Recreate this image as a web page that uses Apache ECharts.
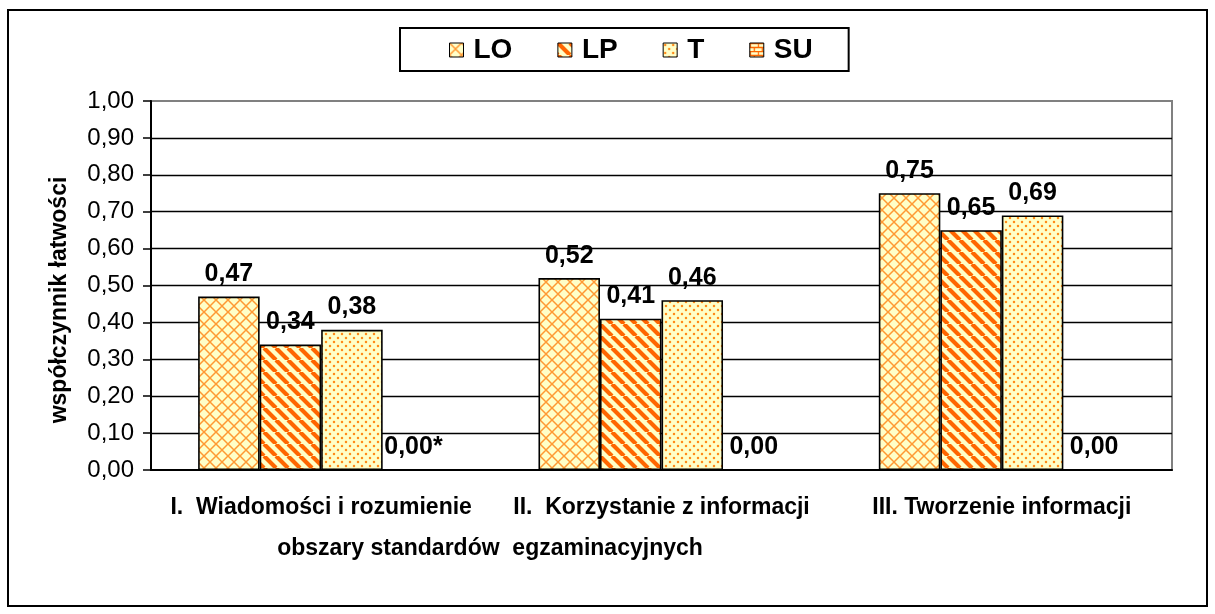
<!DOCTYPE html>
<html>
<head>
<meta charset="utf-8">
<script src="https://cdn.jsdelivr.net/npm/echarts@6/dist/echarts.min.js"></script>
<style>
  html, body { margin: 0; padding: 0; background: #fff; }
  #chart { width: 1215px; height: 614px; }
</style>
</head>
<body>
<div id="chart"></div>
<script>
// dane z wykresu
var categories = ['I.  Wiadomości i rozumienie', 'II.  Korzystanie z informacji', 'III. Tworzenie informacji'];
var seriesNames = ['LO', 'LP', 'T', 'SU'];
var valuesLO = [0.47, 0.52, 0.75];
var valuesLP = [0.34, 0.41, 0.65];
var valuesT = [0.38, 0.46, 0.69];
var valuesSU = [0, 0, 0];
var labelsSU = ['0,00*', '0,00', '0,00'];

var FONT = "'Liberation Sans', Arial, sans-serif";
var bg = '#FFFFC8';

function tile(size, draw) {
    var c = document.createElement('canvas');
    c.width = size; c.height = size;
    var ctx = c.getContext('2d');
    ctx.fillStyle = bg;
    ctx.fillRect(0, 0, size, size);
    draw(ctx, size);
    return { image: c, repeat: 'repeat' };
}

// kratka
var patLO = tile(12, function (ctx, s) {
    ctx.strokeStyle = '#FF9933';
    ctx.lineWidth = 1.5;
    ctx.beginPath();
    ctx.moveTo(0, 0); ctx.lineTo(s, s);
    ctx.moveTo(s, 0); ctx.lineTo(0, s);
    ctx.stroke();
});
// paski ukośne
var patLP = tile(12, function (ctx, s) {
    ctx.strokeStyle = '#FF6600';
    ctx.lineWidth = 4.2;
    ctx.beginPath();
    for (var k = -1; k <= 1; k++) {
        ctx.moveTo(k * s, 0); ctx.lineTo(k * s + s, s);
    }
    ctx.stroke();
});
// kropki
var patT = tile(8, function (ctx, s) {
    ctx.fillStyle = '#FF8C1A';
    ctx.beginPath();
    ctx.arc(2, 2, 1.25, 0, Math.PI * 2);
    ctx.arc(6, 6, 1.25, 0, Math.PI * 2);
    ctx.fill();
});
// cegiełki
var patSU = tile(8, function (ctx, s) {
    ctx.strokeStyle = '#FF6600';
    ctx.lineWidth = 1.3;
    ctx.beginPath();
    ctx.moveTo(0, 0.5); ctx.lineTo(s, 0.5);
    ctx.moveTo(0, 4.5); ctx.lineTo(s, 4.5);
    ctx.moveTo(0.5, 0); ctx.lineTo(0.5, 4.5);
    ctx.moveTo(4.5, 4.5); ctx.lineTo(4.5, s);
    ctx.stroke();
});

function fmt(v) { return v.toFixed(2).replace('.', ','); }

function barSeries(name, data, pattern, labels) {
    return {
        name: name,
        type: 'bar',
        data: data,
        barGap: 0,
        barCategoryGap: '27.7%',
        itemStyle: { color: pattern, borderColor: '#000', borderWidth: 1.6 },
        label: {
            show: true,
            position: 'top',
            distance: 10,
            color: '#000',
            fontFamily: FONT,
            fontSize: 25,
            fontWeight: 'bold',
            formatter: function (p) { return labels ? labels[p.dataIndex] : fmt(p.value); }
        }
    };
}

var chart = echarts.init(document.getElementById('chart'));
var option = {
    animation: false,
    backgroundColor: '#fff',
    textStyle: { fontFamily: FONT },
    grid: {
        left: 151, right: 43, top: 101, bottom: 144,
        show: true, borderColor: '#808080', borderWidth: 2, backgroundColor: 'transparent'
    },
    legend: {
        data: seriesNames,
        left: 400, top: 28,
        padding: [8, 36, 7, 49],
        itemGap: 45,
        itemWidth: 14, itemHeight: 14,
        icon: 'rect',
        borderColor: '#000', borderWidth: 2,
        itemStyle: { borderColor: '#000', borderWidth: 1 },
        textStyle: { fontFamily: FONT, fontSize: 28, fontWeight: 'bold', color: '#000', padding: [0, 0, 0, 5] }
    },
    xAxis: {
        type: 'category',
        data: categories,
        axisLine: { lineStyle: { color: '#000', width: 2 } },
        axisTick: { length: 6, lineStyle: { color: '#000', width: 1.5 } },
        axisLabel: { interval: 0, fontFamily: FONT, fontSize: 23, fontWeight: 'bold', color: '#000', margin: 26 }
    },
    yAxis: {
        type: 'value',
        min: 0, max: 1, interval: 0.1,
        axisLine: { show: true, lineStyle: { color: '#000', width: 2 } },
        axisTick: { show: true, length: 8, lineStyle: { color: '#000', width: 1.5 } },
        axisLabel: { fontFamily: FONT, fontSize: 24, color: '#000', margin: 17, formatter: fmt },
        splitLine: { show: true, showMinLine: false, showMaxLine: false, lineStyle: { color: '#000', width: 1.3 } }
    },
    graphic: [
        {
            type: 'rect', silent: true,
            shape: { x: 8, y: 10, width: 1199, height: 596 },
            style: { fill: 'none', stroke: '#000', lineWidth: 2 }
        },
        {
            type: 'text', silent: true,
            x: 60, y: 300, rotation: Math.PI / 2,
            style: {
                text: 'współczynnik łatwości', fill: '#000',
                font: 'bold 23px ' + FONT, align: 'center', verticalAlign: 'middle'
            }
        },
        {
            type: 'text', silent: true,
            x: 490, y: 549,
            style: {
                text: 'obszary standardów  egzaminacyjnych', fill: '#000',
                font: 'bold 23px ' + FONT, align: 'center', verticalAlign: 'middle'
            }
        }
    ],
    series: [
        barSeries('LO', valuesLO, patLO),
        barSeries('LP', valuesLP, patLP),
        barSeries('T', valuesT, patT),
        barSeries('SU', valuesSU, patSU, labelsSU)
    ]
};
chart.setOption(option);
</script>
</body>
</html>
